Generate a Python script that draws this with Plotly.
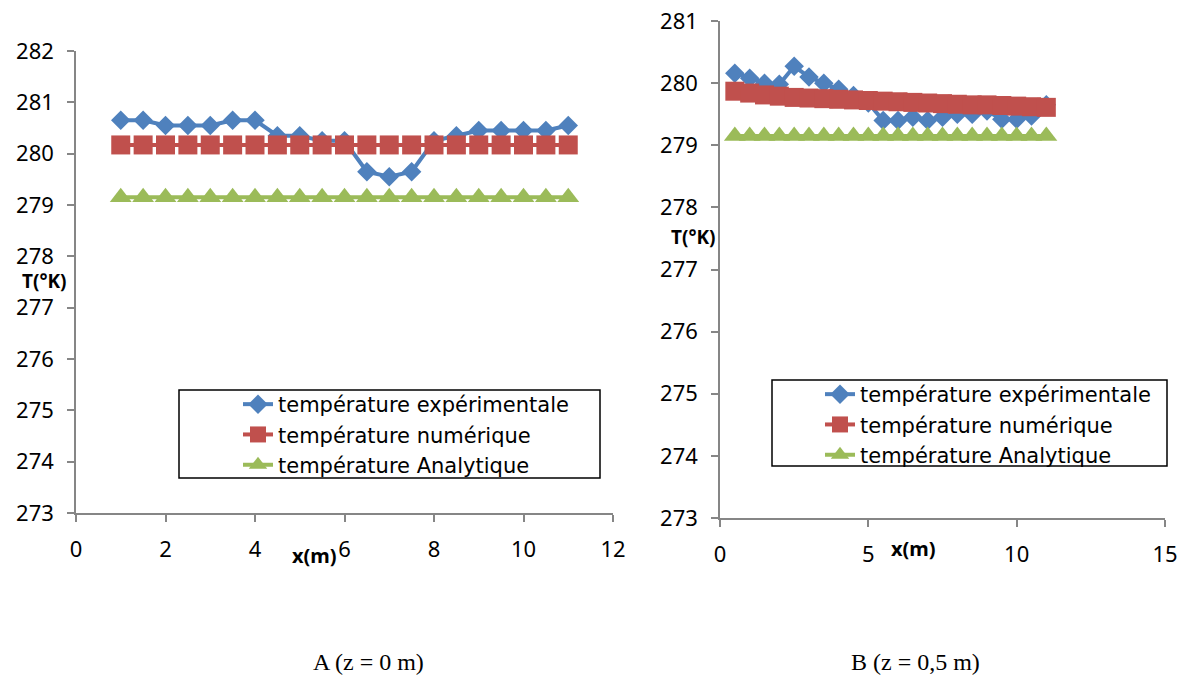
import plotly.graph_objects as go

# ---- Data: chart A (z = 0 m)
xA = [1, 1.5, 2, 2.5, 3, 3.5, 4, 4.5, 5, 5.5, 6, 6.5, 7, 7.5, 8, 8.5, 9, 9.5, 10, 10.5, 11]
expA = [280.65, 280.65, 280.55, 280.55, 280.55, 280.65, 280.65, 280.35, 280.35, 280.25, 280.25,
        279.65, 279.55, 279.65, 280.25, 280.35, 280.45, 280.45, 280.45, 280.45, 280.55]
numA = [280.17] * 21
anaA = [279.15] * 21

# ---- Data: chart B (z = 0,5 m)
xB = [0.5, 1, 1.5, 2, 2.5, 3, 3.5, 4, 4.5, 5, 5.5, 6, 6.5, 7, 7.5, 8, 8.5, 9, 9.5, 10, 10.5, 11]
expB = [280.16, 280.08, 280.0, 279.98, 280.27, 280.1, 280.0, 279.9, 279.8, 279.68, 279.4,
        279.4, 279.45, 279.4, 279.45, 279.5, 279.5, 279.55, 279.42, 279.42, 279.47, 279.65]
numB = [279.87, 279.84, 279.81, 279.79, 279.77, 279.76, 279.75, 279.74, 279.73, 279.72, 279.71,
        279.70, 279.69, 279.68, 279.67, 279.66, 279.65, 279.65, 279.64, 279.63, 279.62, 279.61]
anaB = [279.15] * 22

names = ["température expérimentale", "température numérique", "température Analytique"]
colors = ["#4F81BD", "#C0504D", "#9BBB59"]
symbols = ["diamond", "square", "triangle-up"]
sizes = [15, 19, 19]

W, H = 1186, 675
FONT = "Noto Sans"

fig = go.Figure()

for xs, series, xa, ya, leg in [
    (xA, [expA, numA, anaA], "x", "y", "legend"),
    (xB, [expB, numB, anaB], "x2", "y2", "legend2"),
]:
    for i in range(3):
        fig.add_trace(go.Scatter(
            x=xs, y=series[i], name=names[i], mode="lines+markers",
            line=dict(color=colors[i], width=4),
            marker=dict(symbol=symbols[i], size=sizes[i], color=colors[i]),
            xaxis=xa, yaxis=ya, legend=leg,
        ))

def px_x(p):
    return p / W

def px_y(p):
    return 1 - p / H

axis_common = dict(
    showgrid=False, zeroline=False, showline=True, linecolor="#868686", linewidth=1.5,
    ticks="outside", tickcolor="#868686", ticklen=7, tickwidth=1.5,
    tickfont=dict(family=FONT, size=22, color="black"), automargin=False,
)
xaxis_common = dict(axis_common, ticklabelstandoff=9)
yaxis_common = dict(axis_common, ticklabelstandoff=9)

LEGFONT = dict(family="DejaVu Sans", size=21, color="black")

fig.update_layout(
    width=W, height=H,
    margin=dict(l=0, r=0, t=0, b=0, pad=0, autoexpand=False),
    paper_bgcolor="white", plot_bgcolor="white",
    font=dict(family=FONT, color="black"),
    xaxis=dict(domain=[px_x(76), px_x(613)], range=[0, 12], dtick=2, anchor="y", **xaxis_common),
    yaxis=dict(domain=[px_y(513), px_y(51)], range=[273, 282], dtick=1, anchor="x", **yaxis_common),
    xaxis2=dict(domain=[px_x(720), px_x(1165)], range=[0, 15], dtick=5, anchor="y2", **xaxis_common),
    yaxis2=dict(domain=[px_y(518), px_y(21)], range=[273, 281], dtick=1, anchor="x2", **yaxis_common),
    legend=dict(x=px_x(238), y=px_y(384), xanchor="left", yanchor="top",
                borderwidth=0, bgcolor="rgba(0,0,0,0)",
                font=LEGFONT, tracegroupgap=0),
    legend2=dict(x=px_x(820), y=px_y(374), xanchor="left", yanchor="top",
                 borderwidth=0, bgcolor="rgba(0,0,0,0)",
                 font=LEGFONT, tracegroupgap=0),
    showlegend=True,
    shapes=[
        dict(type="rect", xref="paper", yref="paper",
             x0=px_x(179), x1=px_x(600), y0=px_y(478), y1=px_y(390),
             line=dict(color="black", width=1.5), fillcolor="rgba(0,0,0,0)", layer="below"),
        dict(type="rect", xref="paper", yref="paper",
             x0=px_x(772), x1=px_x(1167), y0=px_y(466), y1=px_y(380),
             line=dict(color="black", width=1.5), fillcolor="rgba(0,0,0,0)", layer="below"),
    ],
)

annotations = [
    dict(text="<b>T(°K)</b>", x=px_x(44), y=px_y(281), font=dict(family=FONT, size=19)),
    dict(text="<b>x(m)</b>", x=px_x(314), y=px_y(555), font=dict(family=FONT, size=20)),
    dict(text="<b>T(°K)</b>", x=px_x(693), y=px_y(237), font=dict(family=FONT, size=19)),
    dict(text="<b>x(m)</b>", x=px_x(913), y=px_y(548), font=dict(family=FONT, size=20)),
    dict(text="A (z = 0 m)", x=px_x(368), y=px_y(662),
         font=dict(family="Liberation Serif", size=24)),
    dict(text="B (z = 0,5 m)", x=px_x(915), y=px_y(662),
         font=dict(family="Liberation Serif", size=24)),
]
for a in annotations:
    a.update(xref="paper", yref="paper", showarrow=False, xanchor="center", yanchor="middle")
fig.update_layout(annotations=annotations)

fig.write_html("out.html", config={"displayModeBar": False},
               post_script="document.body.style.margin='0';document.body.style.overflow='hidden';")
